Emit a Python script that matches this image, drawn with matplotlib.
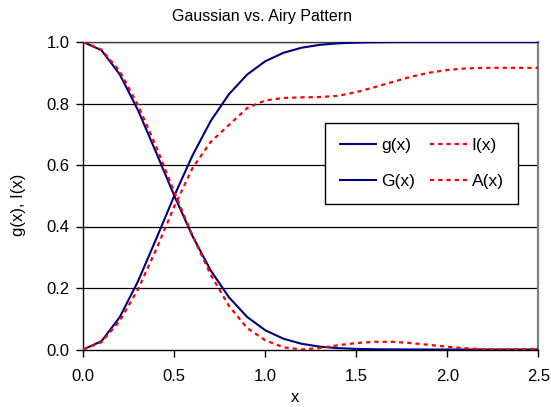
import matplotlib
matplotlib.use("Agg")
import matplotlib.pyplot as plt

plt.rcParams['font.family'] = ['Liberation Sans', 'DejaVu Sans']

x = [0.0, 0.1, 0.2, 0.3, 0.4, 0.5, 0.6, 0.7, 0.8, 0.9, 1.0, 1.1, 1.2,
     1.3, 1.4, 1.5, 1.6, 1.7, 1.8, 1.9, 2.0, 2.1, 2.2, 2.3, 2.4, 2.5]

g_vals = [1.0, 0.973, 0.895, 0.779, 0.641, 0.5, 0.369, 0.257, 0.170, 0.106,
          0.0625, 0.035, 0.0185, 0.0092, 0.0044, 0.002, 0.0008, 0.0003,
          0.0001, 0.0, 0.0, 0.0, 0.0, 0.0, 0.0, 0.0]
G_vals = [0.0, 0.027, 0.105, 0.221, 0.359, 0.5, 0.631, 0.743, 0.830, 0.894,
          0.9375, 0.965, 0.9815, 0.9908, 0.9956, 0.998, 0.9992, 0.9997,
          0.9999, 1.0, 1.0, 1.0, 1.0, 1.0, 1.0, 1.0]
I_vals = [1.0, 0.975, 0.905, 0.795, 0.66, 0.512, 0.37, 0.243, 0.142, 0.07,
          0.03, 0.007, 0.0, 0.005, 0.014, 0.021, 0.025, 0.025, 0.021, 0.015,
          0.009, 0.004, 0.001, 0.0, 0.001, 0.002]
A_vals = [0.0, 0.024, 0.093, 0.195, 0.325, 0.465, 0.59, 0.675, 0.73, 0.785,
          0.81, 0.818, 0.82, 0.821, 0.825, 0.837, 0.853, 0.87, 0.887, 0.9,
          0.909, 0.914, 0.916, 0.916, 0.916, 0.916]

x_ticks = [0.0, 0.5, 1.0, 1.5, 2.0, 2.5]
y_ticks = [0.0, 0.2, 0.4, 0.6, 0.8, 1.0]

W, H = 551, 407
fig = plt.figure(figsize=(W / 100, H / 100), dpi=100)
ax = fig.add_axes([83.3 / W, 1 - 349.5 / H, (538.3 - 83.3) / W, (349.5 - 42) / H])

blue = '#000080'
red = '#FF0000'
lw_b = 1.5
lw_r = 1.6
dash = (0, (1.9, 1.8))

lg, = ax.plot(x, g_vals, color=blue, lw=lw_b, label='g(x)', zorder=3)
lG, = ax.plot(x, G_vals, color=blue, lw=lw_b, label='G(x)', zorder=3)
lI, = ax.plot(x, I_vals, color=red, lw=lw_r, ls=dash, label='I(x)', zorder=4)
lA, = ax.plot(x, A_vals, color=red, lw=lw_r, ls=dash, label='A(x)', zorder=4)

ax.set_xlim(0, 2.5)
ax.set_ylim(0, 1.0)
ax.set_xticks(x_ticks)
ax.set_xticklabels([f'{v:.1f}' for v in x_ticks])
ax.set_yticks(y_ticks)
ax.set_yticklabels([f'{v:.1f}' for v in y_ticks])
ax.tick_params(direction='out', length=5, width=1, labelsize=12, color='black')
ax.tick_params(axis='x', pad=9)
ax.tick_params(axis='y', pad=5)

for yv in y_ticks[1:]:
    ax.axhline(yv, color='black', lw=0.9, zorder=1)

ax.spines['left'].set_color('black')
ax.spines['bottom'].set_color('black')
ax.spines['right'].set_color('#808080')
ax.spines['top'].set_color('#404040')
for s in ax.spines.values():
    s.set_linewidth(1.0)
ax.spines['right'].set_linewidth(1.6)

fig.text(262 / W, 1 - 17 / H, 'Gaussian vs. Airy Pattern', ha='center', va='center', fontsize=11.5)
fig.text(295 / W, 1 - 398 / H, 'x', ha='center', va='center', fontsize=12)
fig.text(18 / W, 1 - 205 / H, 'g(x), I(x)', ha='center', va='center', rotation=90, fontsize=12)

leg = fig.legend(handles=[lg, lG, lI, lA], loc='upper left',
                 bbox_to_anchor=(325 / W, 1 - 122.7 / H), ncol=2,
                 fontsize=12.5, frameon=True, fancybox=False, framealpha=1,
                 edgecolor='black', handlelength=2.1, handletextpad=0.3,
                 columnspacing=0.85, labelspacing=1.25, borderpad=0.85,
                 borderaxespad=0)
leg.get_frame().set_linewidth(1.0)

fig.savefig('out.png', dpi=100)
